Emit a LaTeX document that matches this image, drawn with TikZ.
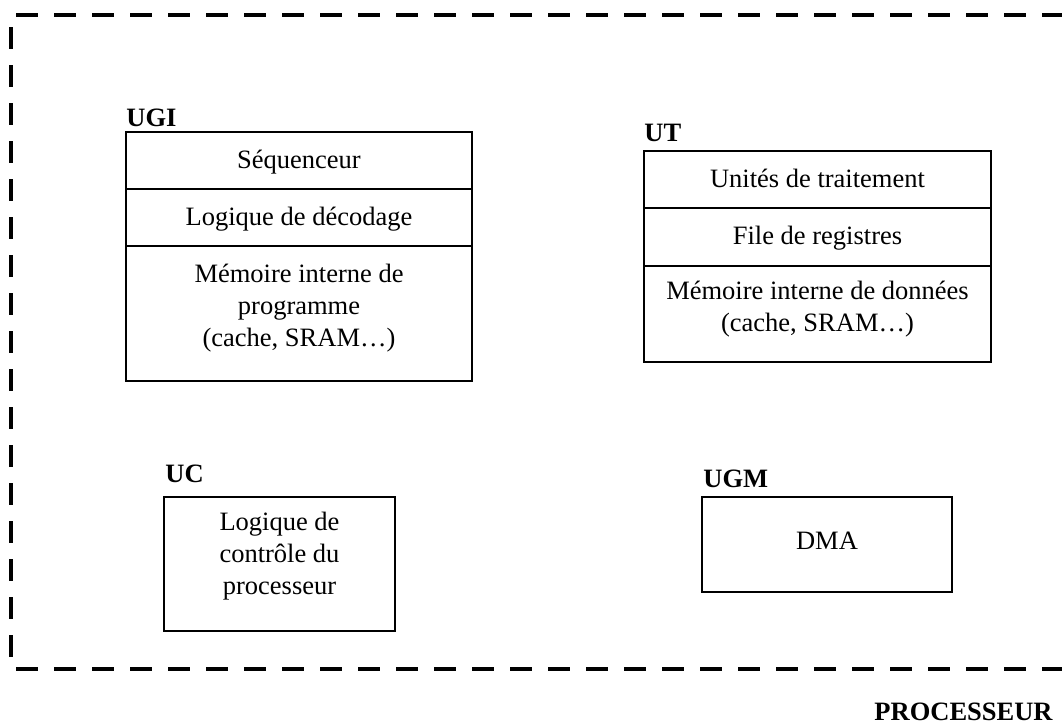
\documentclass[tikz,border=0pt]{standalone}
\usepackage{fontspec}
\setmainfont{Liberation Serif}
\begin{document}
\begin{tikzpicture}[x=0.5pt,y=-0.5pt,
  cell/.style={draw, line width=1pt, inner sep=0pt},
  txt/.style={align=center, inner sep=0pt, font=\fontsize{13.25}{15.9}\selectfont},
  lbl/.style={inner sep=0pt, font=\fontsize{13.25}{15.75}\selectfont\bfseries},
  border/.style={line width=2pt, dash pattern=on 11pt off 8pt}]
\useasboundingbox (0,0) rectangle (1062,724);
% outer dashed frame
\coordinate (tl) at (16,15);
\coordinate (tr) at (1062,15);
\coordinate (lt) at (11,27);
\coordinate (lb) at (11,657);
\coordinate (bl) at (16,669);
\coordinate (br) at (1062,669);
\draw[border] (tl) -- (tr);
\draw[border] (lt) -- (lb);
\draw[border] (bl) -- (br);
% UGI
\node[lbl, anchor=base west] (ugil) at (126,126) {UGI};
\node[cell, minimum width=173pt, minimum height=28.5pt] (ugi1) at (299,160.5) {};
\node[cell, minimum width=173pt, minimum height=28.5pt] (ugi2) at (299,217.5) {};
\node[cell, minimum width=173pt, minimum height=67.5pt] (ugi3) at (299,313.5) {};
\node[txt] (ugit1) at (299,162) {Séquenceur};
\node[txt] (ugit2) at (299,219) {Logique de décodage};
\node[txt] (ugit3) at (299,308) {Mémoire interne de\\programme\\(cache, SRAM…)};
% UT
\node[lbl, anchor=base west] (utl) at (644,141) {UT};
\node[cell, minimum width=173.5pt, minimum height=28.5pt] (ut1) at (817.5,179.5) {};
\node[cell, minimum width=173.5pt, minimum height=29pt] (ut2) at (817.5,237) {};
\node[cell, minimum width=173.5pt, minimum height=48pt] (ut3) at (817.5,314) {};
\node[txt] (utt1) at (817.5,178) {Unités de traitement};
\node[txt] (utt2) at (817.5,238) {File de registres};
\node[txt] (utt3) at (817.5,309) {Mémoire interne de données\\(cache, SRAM…)};
% UC
\node[lbl, anchor=base west] (ucl) at (165,482) {UC};
\node[cell, minimum width=115.5pt, minimum height=67pt] (uc) at (279.5,564) {};
\node[txt] (uct) at (279.5,556) {Logique de\\contrôle du\\processeur};
% UGM
\node[lbl, anchor=base west] (ugml) at (703,487) {UGM};
\node[cell, minimum width=125pt, minimum height=47.5pt] (ugm) at (827,544.5) {};
\node[txt] (ugmt) at (827,541) {DMA};
% processor label
\node[lbl, anchor=base east] (proc) at (1053,720) {PROCESSEUR};
\end{tikzpicture}
\end{document}
